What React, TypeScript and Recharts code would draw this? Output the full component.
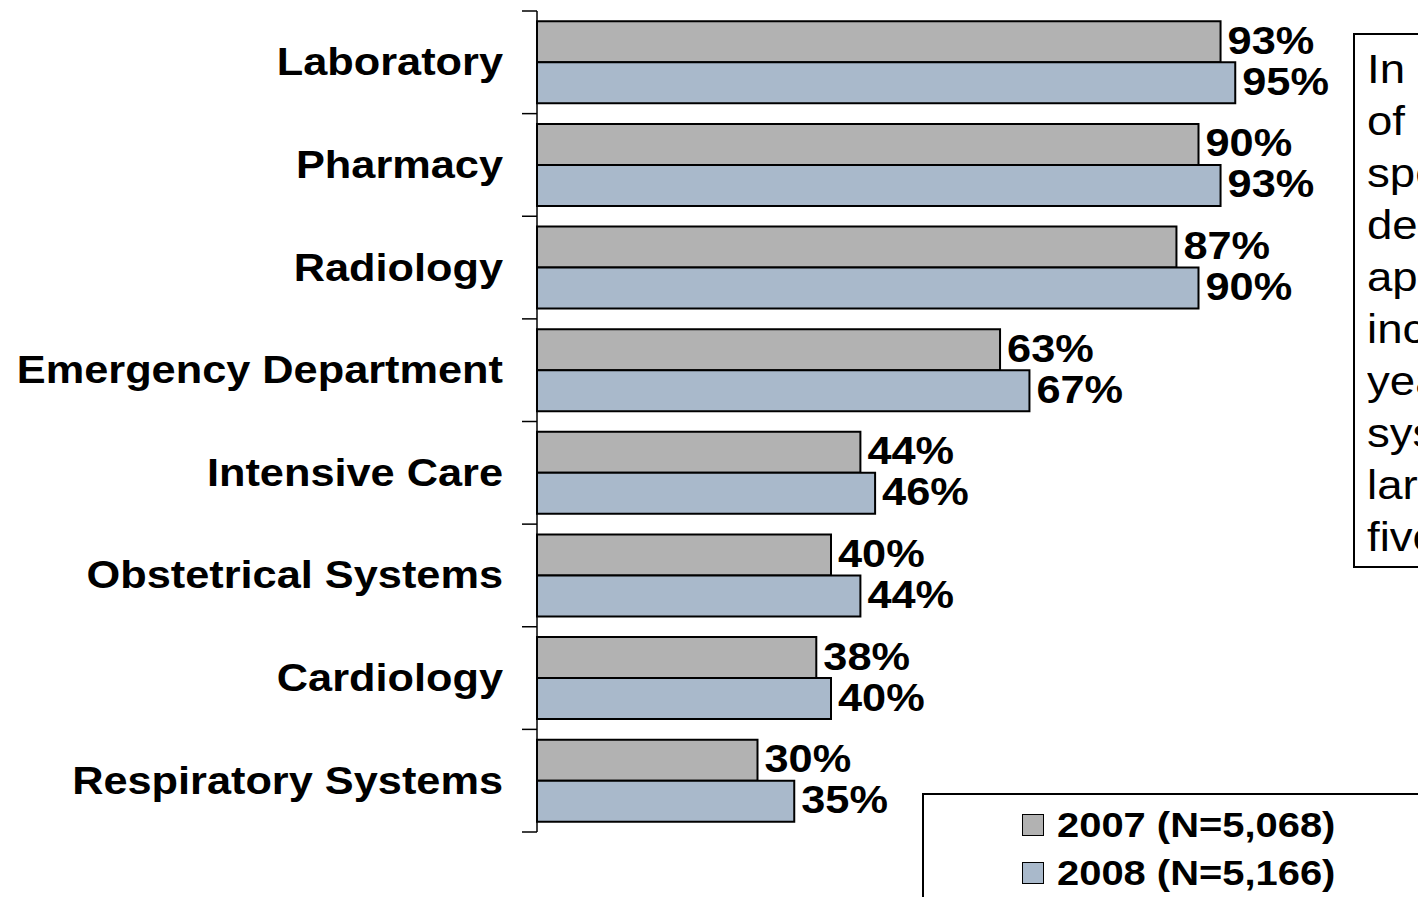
import React from "react";
import { BarChart, Bar, XAxis, YAxis, LabelList } from "recharts";

const categories = [
  "Laboratory",
  "Pharmacy",
  "Radiology",
  "Emergency Department",
  "Intensive Care",
  "Obstetrical Systems",
  "Cardiology",
  "Respiratory Systems",
];
const values2007 = [93, 90, 87, 63, 44, 40, 38, 30];
const values2008 = [95, 93, 90, 67, 46, 44, 40, 35];
const seriesNames = ["2007 (N=5,068)", "2008 (N=5,166)"];
const seriesColors = ["#B2B2B2", "#A9B9CB"];
const noteLines = [
  "In 2008, the majority",
  "of hospitals reported",
  "specialty",
  "department",
  "applications, with",
  "increases over last",
  "year in every area;",
  "systems with the",
  "largest gains rose",
  "five points or more",
];

const data = categories.map((name, i) => ({
  name,
  y2007: values2007[i],
  y2008: values2008[i],
}));

const FONT = "'Liberation Sans', Arial, sans-serif";
const STRETCH = 1.14;
const PLOT_TOP = 11;
const PLOT_BOTTOM = 832;
const BAND = (PLOT_BOTTOM - PLOT_TOP) / categories.length;

// category label + tick marks on the band boundaries
const CategoryTick = (props: any) => {
  const { x, y, payload, index } = props;
  const axisX = x;
  return (
    <g>
      <line x1={axisX - 15} x2={axisX} y1={y - BAND / 2} y2={y - BAND / 2} stroke="#000" strokeWidth={1.5} />
      {index === categories.length - 1 && (
        <line x1={axisX - 15} x2={axisX} y1={y + BAND / 2} y2={y + BAND / 2} stroke="#000" strokeWidth={1.5} />
      )}
      <g transform={`translate(${axisX - 34},${y}) scale(${STRETCH},1)`}>
        <text x={0} y={0} textAnchor="end" dominantBaseline="central" fontFamily={FONT} fontWeight="bold" fontSize={38} fill="#000">
          {payload.value}
        </text>
      </g>
    </g>
  );
};

const ValueLabel = (props: any) => {
  const { x, y, width, height, value } = props;
  const lx = x + width + 7;
  const ly = y + height / 2 - 1;
  return (
    <g transform={`translate(${lx},${ly}) scale(${STRETCH},1)`}>
      <text x={0} y={0} dominantBaseline="central" fontFamily={FONT} fontWeight="bold" fontSize={38} fill="#000">
        {value + "%"}
      </text>
    </g>
  );
};

export default function App() {
  return (
    <div style={{ position: "absolute", left: 0, top: 0, width: 1418, height: 897, overflow: "hidden", background: "#fff" }}>
      <BarChart
        width={1418}
        height={897}
        data={data}
        layout="vertical"
        margin={{ top: PLOT_TOP, right: 146, bottom: 897 - PLOT_BOTTOM, left: 0 }}
        barCategoryGap="10%"
        barGap={0}
      >
        <XAxis type="number" domain={[0, 100]} hide />
        <YAxis
          type="category"
          dataKey="name"
          width={537}
          axisLine={{ stroke: "#000", strokeWidth: 1.5 }}
          tickLine={false}
          tickSize={0}
          tickMargin={0}
          interval={0}
          tick={<CategoryTick />}
        />
        <Bar dataKey="y2007" name={seriesNames[0]} fill={seriesColors[0]} stroke="#000" strokeWidth={2} isAnimationActive={false}>
          <LabelList dataKey="y2007" content={<ValueLabel />} />
        </Bar>
        <Bar dataKey="y2008" name={seriesNames[1]} fill={seriesColors[1]} stroke="#000" strokeWidth={2} isAnimationActive={false}>
          <LabelList dataKey="y2008" content={<ValueLabel />} />
        </Bar>
      </BarChart>

      {/* note box, clipped by the right edge as in the original slide */}
      <div
        style={{
          position: "absolute",
          left: 1353,
          top: 33,
          width: 400,
          height: 535,
          border: "2px solid #000",
          boxSizing: "border-box",
          paddingTop: 8,
          paddingLeft: 12,
          fontFamily: FONT,
          fontSize: 40,
          lineHeight: "52px",
          whiteSpace: "nowrap",
        }}
      >
        {noteLines.map((l) => (
          <div key={l} style={{ transform: `scaleX(${STRETCH})`, transformOrigin: "left center" }}>
            {l}
          </div>
        ))}
      </div>

      {/* legend box */}
      <div
        style={{
          position: "absolute",
          left: 922,
          top: 793,
          width: 600,
          height: 200,
          border: "2px solid #000",
          boxSizing: "border-box",
          fontFamily: FONT,
          fontWeight: "bold",
          fontSize: 35,
        }}
      >
        {seriesNames.map((n, i) => (
          <div key={n} style={{ position: "absolute", left: 98, top: 10 + i * 48, height: 40, display: "flex", alignItems: "center", whiteSpace: "nowrap" }}>
            <div style={{ width: 20, height: 20, background: seriesColors[i], border: "1.5px solid #000", marginRight: 13 }} />
            <div style={{ transform: `scaleX(${STRETCH})`, transformOrigin: "left center" }}>{n}</div>
          </div>
        ))}
      </div>
    </div>
  );
}
